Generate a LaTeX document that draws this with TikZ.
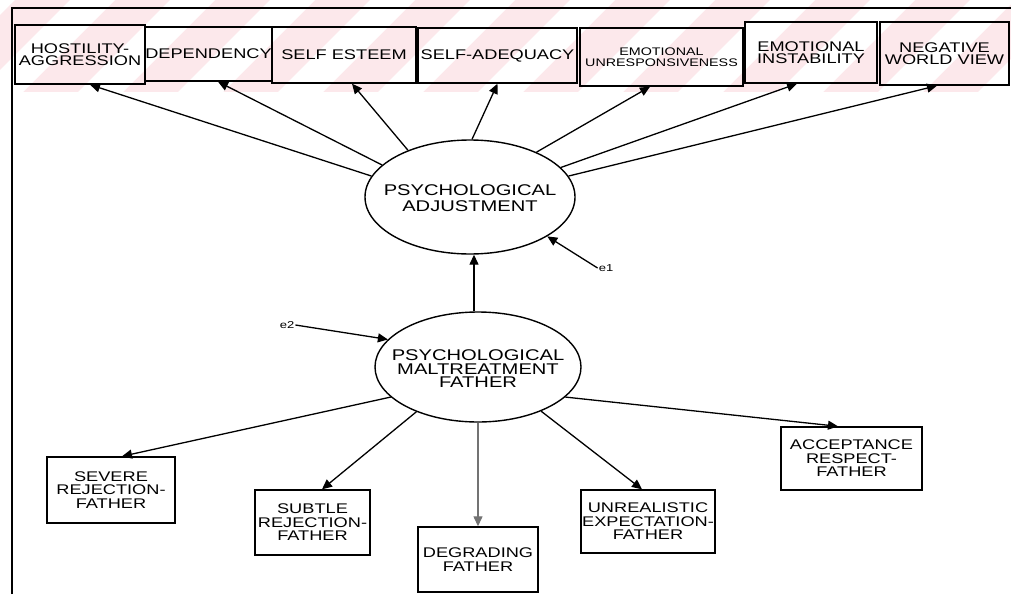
\documentclass[tikz,border=0pt]{standalone}
\usepackage{fontspec}
\newfontfamily\lbl[FakeStretch=1.3]{Liberation Sans}
\usetikzlibrary{shapes.geometric,arrows.meta}
\definecolor{pinkbg}{RGB}{252,232,235}
\begin{document}
\begin{tikzpicture}[x=1pt,y=-1pt,
  box/.style={draw, line width=1.4pt, align=center, inner sep=1pt,
    font=\lbl\fontsize{14}{12.5}\selectfont},
  lowbox/.style={box, font=\lbl\fontsize{14}{13.5}\selectfont},
  ell/.style={draw, ellipse, line width=1.4pt, inner sep=0pt},
  elltext/.style={align=center, inner sep=0pt},
  arr/.style={line width=1.3pt, -{Triangle[length=10pt,width=9pt]}},
  errlbl/.style={font=\lbl\fontsize{10}{10}\selectfont, inner sep=1pt}]
\useasboundingbox (0,0) rectangle (1011,594);
% watermark stripes at the top
\begin{scope}
  \clip (0,0) rectangle (1011,92);
  \fill[pinkbg] (0,0) rectangle (1011,92);
  \foreach \i in {0,...,12} {
    \fill[white] (\i*100-30,0) -- ++(45,0) -- ++(-92,92) -- ++(-45,0) -- cycle;
  }
\end{scope}
% frame
\draw[line width=2.2pt] (12,594) -- (12,8);
\draw[line width=1.4pt] (11,8) -- (1011,8);
% top boxes
\node[box, minimum width=130pt, minimum height=59pt] (H)  at (80,54.5)   {HOSTILITY-\\AGGRESSION};
\node[box, minimum width=127pt, minimum height=54pt] (D)  at (208.5,54)  {DEPENDENCY};
\node[box, minimum width=144pt, minimum height=56pt] (SE) at (344,55)    {SELF ESTEEM};
\node[box, minimum width=159pt, minimum height=55pt] (SA) at (497.5,55.5){SELF-ADEQUACY};
\node[box, minimum width=163pt, minimum height=58pt, font=\lbl\fontsize{11}{11}\selectfont] (EU) at (661.5,57) {EMOTIONAL\\UNRESPONSIVENESS};
\node[box, minimum width=132pt, minimum height=61pt] (EI) at (811,52.5)  {EMOTIONAL\\INSTABILITY};
\node[box, minimum width=129pt, minimum height=63pt] (NW) at (944.5,53.5){NEGATIVE\\WORLD VIEW};
% ellipses
\node[ell, minimum width=210pt, minimum height=114pt] (PA) at (470,197) {};
\node[elltext, font=\lbl\fontsize{15.5}{16}\selectfont] (PAt) at (470,198) {PSYCHOLOGICAL\\ADJUSTMENT};
\node[ell, minimum width=206pt, minimum height=110pt] (PM) at (478,367) {};
\node[elltext, font=\lbl\fontsize{15.5}{13.5}\selectfont] (PMt) at (478,369) {PSYCHOLOGICAL\\MALTREATMENT\\FATHER};
% error labels
\node[errlbl] (E1) at (606,268) {e1};
\node[errlbl] (E2) at (287,325) {e2};
% bottom boxes
\node[lowbox, minimum width=128pt, minimum height=66pt] (SR) at (111,490)    {SEVERE\\REJECTION-\\FATHER};
\node[lowbox, minimum width=115pt, minimum height=65pt] (ST) at (312.5,522.5){SUBTLE\\REJECTION-\\FATHER};
\node[lowbox, minimum width=120pt, minimum height=65pt] (DG) at (478,559.5)  {DEGRADING\\FATHER};
\node[lowbox, minimum width=130pt, minimum height=63pt] (UE) at (648,521.5)  {UNREALISTIC\\EXPECTATION-\\FATHER};
\node[lowbox, minimum width=141pt, minimum height=63pt] (AR) at (851.5,458.5){ACCEPTANCE\\RESPECT-\\FATHER};
% connectors to top boxes
\draw[arr] (PA.168.5) -- ([xshift=10pt]H.south);
\draw[arr] (PA.160)   -- ([xshift=9.5pt]D.south);
\draw[arr] (PA.143)   -- ([xshift=8pt]SE.south);
\draw[arr] (PA.88)    -- (SA.south);
\draw[arr] (PA.34)    -- ([xshift=-11.5pt]EU.south);
\draw[arr] (PA.18)    -- ([xshift=-14pt]EI.south);
\draw[arr] (PA.12)    -- ([xshift=-7.5pt]NW.south);
% structural path
\draw[arr] ([xshift=-4pt]PM.north) -- ([xshift=4pt]PA.south);
% error arrows
\draw[arr] (E1.west) -- (PA.-27);
\draw[arr] (E2.east) -- (PM.163.5);
% connectors to bottom boxes
\draw[arr] (PM.199) -- ([xshift=11pt]SR.north);
\draw[arr] (PM.216) -- ([xshift=9.5pt]ST.north);
\draw[arr, draw=black!55] (PM.south) -- (DG.north);
\draw[arr] (PM.325) -- ([xshift=-6pt]UE.north);
\draw[arr] (PM.341) -- ([xshift=-13.5pt]AR.north);
\end{tikzpicture}
\end{document}
